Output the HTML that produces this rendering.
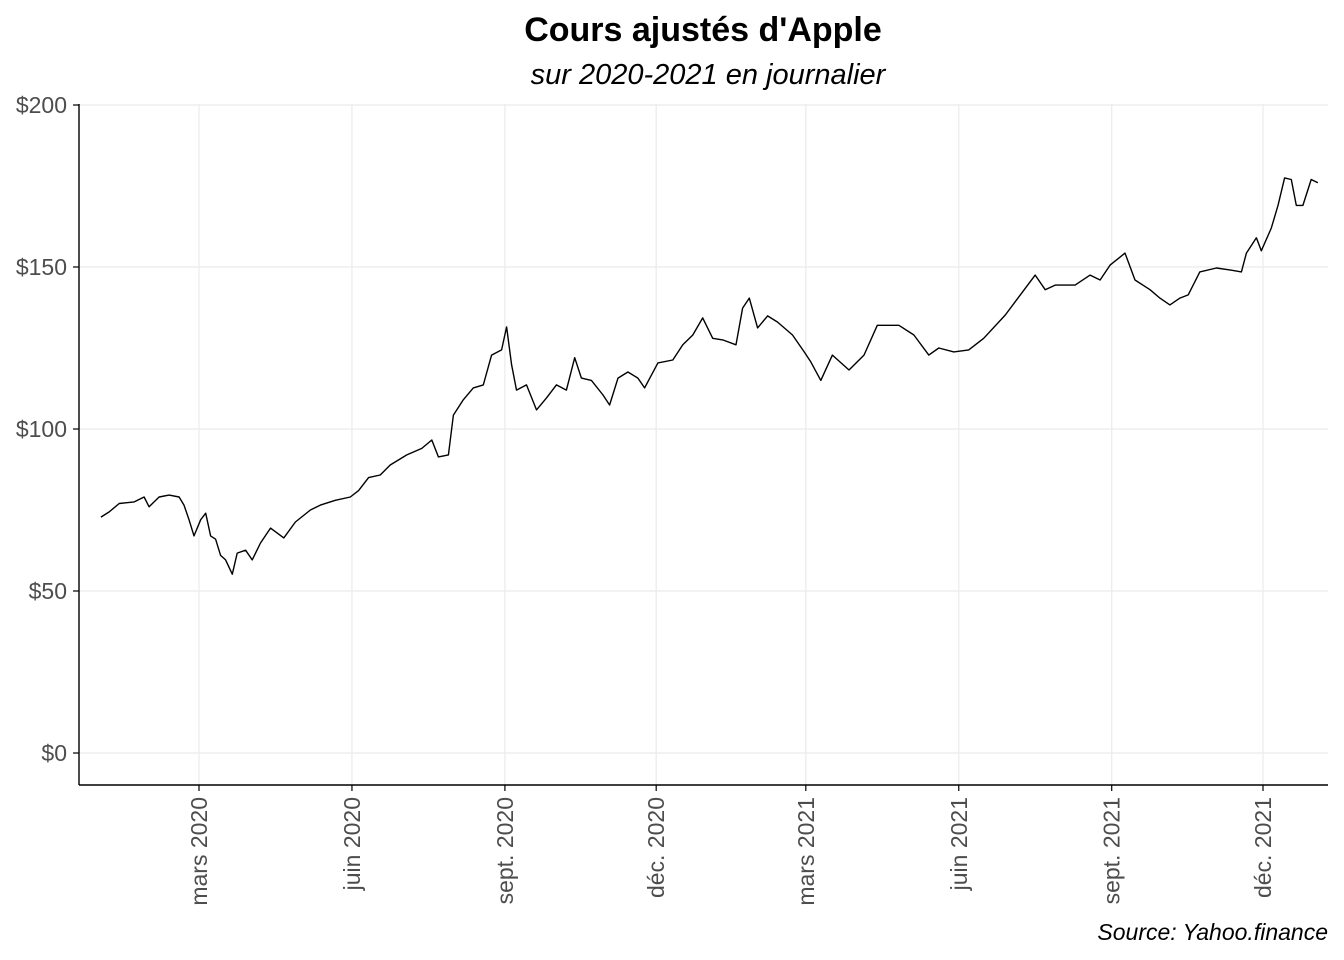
<!DOCTYPE html>
<html><head><meta charset="utf-8"><style>
body{margin:0;background:#fff;}
svg{display:block;font-family:"Liberation Sans",Arial,sans-serif;}
</style></head><body>
<svg id="chart" width="1344" height="960" viewBox="0 0 1344 960">
<text x="703" y="41" text-anchor="middle" font-size="34" font-weight="bold">Cours ajustés d'Apple</text>
<text x="708" y="84" text-anchor="middle" font-size="29" font-style="italic">sur 2020-2021 en journalier</text>
<g id="grid"></g>
<g id="axes"></g>
<path id="line" fill="none" stroke="#000" stroke-width="1.4" stroke-linejoin="round"></path>
<text x="1328" y="940" text-anchor="end" font-size="23" font-style="italic">Source: Yahoo.finance</text>
</svg>
<script>
const days=[1,6,12,21,27,30,36,42,48,51,54,57,61,64,67,70,73,76,80,83,88,92,97,103,111,118,127,133,142,151,156,162,169,175,185,194,200,204,210,213,219,225,231,236,242,245,248,251,257,263,269,275,281,286,290,296,303,307,312,318,324,328,336,345,351,357,363,369,375,383,387,391,396,402,408,417,424,428,434,441,451,460,468,481,490,499,505,514,523,532,545,554,563,569,575,587,596,602,608,617,623,632,638,644,650,655,662,672,681,687,690,696,699,705,709,713,717,720,724,729,733];
const prices=[72.8,74.4,77,77.5,79,76,79,79.6,79,76.5,72,67,72,74,67,66,61,59.6,55.2,61.7,62.6,59.6,64.8,69.4,66.4,71.3,75,76.5,78,79,81,85,85.8,88.9,92,94,96.6,91.4,92,104.3,109,112.7,113.6,122.8,124.4,131.5,119.8,112,113.6,105.9,109.6,113.6,112,122,115.7,115,110.5,107.4,115.7,117.6,115.7,112.7,120.4,121.3,126,129,134.3,128,127.5,126,137.3,140.4,131.2,134.9,133,129,123.8,120.7,115,122.8,118.2,122.8,132,132,129,122.8,125,123.8,124.4,128,135.2,141.4,147.5,143,144.4,144.4,147.5,146,150.6,154.3,146,143,140.4,138.3,140.4,141.4,148.5,149.7,149,148.5,154.3,159,155,162,169,177.5,177,169,169,177,176];
const yTicks=[0,50,100,150,200];
const yLabels=["$0","$50","$100","$150","$200"];
const xTickDays=[60,152,244,335,425,517,609,700];
const xLabels=["mars 2020","juin 2020","sept. 2020","déc. 2020","mars 2021","juin 2021","sept. 2021","déc. 2021"];
const NS="http://www.w3.org/2000/svg";
const X=d=>99.25+d*1.6625;
const Y=v=>753-v*3.24;
const L=79,R=1328,T=104,B=785;
const grid=document.getElementById('grid'),axes=document.getElementById('axes');
function mk(tag,attrs,parent){const e=document.createElementNS(NS,tag);for(const k in attrs)e.setAttribute(k,attrs[k]);parent.appendChild(e);return e;}
yTicks.forEach((v,i)=>{
  const g=mk('line',{x1:L,x2:R,y1:Y(v),y2:Y(v),stroke:'#ebebeb','stroke-width':1.2},grid);
  
  
  const t=mk('line',{x1:73,x2:L,y1:Y(v),y2:Y(v),stroke:'#000','stroke-width':1.2},axes);
  
  
  const tx=mk('text',{x:67,y:Y(v)+8,'text-anchor':'end','font-size':23,fill:'#4d4d4d'},axes);
  tx.textContent=yLabels[i];
  
  
});
xTickDays.forEach((d,i)=>{
  const x=X(d);
  const g=mk('line',{x1:x,x2:x,y1:T,y2:B,stroke:'#ebebeb','stroke-width':1.2},grid);
  
  
  const t=mk('line',{x1:x,x2:x,y1:B,y2:B+6,stroke:'#000','stroke-width':1.2},axes);
  
  
  const tx=mk('text',{x:0,y:0,'text-anchor':'end','font-size':23,fill:'#4d4d4d',transform:`translate(${x+8},797) rotate(-90)`},axes);
  tx.textContent=xLabels[i];
  
  
});
const ya=mk('line',{x1:L,x2:L,y1:T,y2:B,stroke:'#000','stroke-width':1.4},axes);


const xa=mk('line',{x1:L,x2:R,y1:B,y2:B,stroke:'#000','stroke-width':1.4},axes);


document.getElementById('line').setAttribute('d',days.map((d,i)=>(i?'L':'M')+X(d).toFixed(1)+','+Y(prices[i]).toFixed(1)).join(''));
</script>
</body></html>
